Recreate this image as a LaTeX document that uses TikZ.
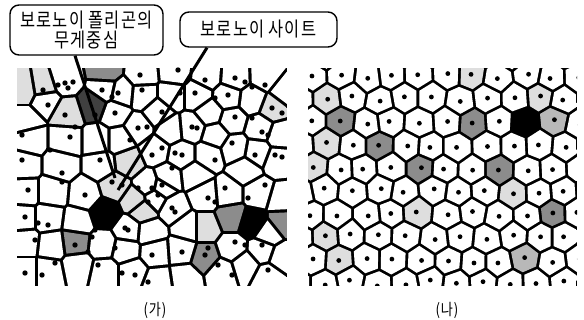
\documentclass[tikz,border=0pt]{standalone}
\usepackage{fontspec}
\newfontfamily\krwide[LetterSpace=5,FakeStretch=0.82]{Noto Sans CJK KR}
\usetikzlibrary{calc}
\definecolor{cW}{gray}{1}
\colorlet{cL}{black!13}
\colorlet{cN}{black!28}
\colorlet{cM}{black!45}
\colorlet{cD}{black!75}
\colorlet{cK}{black}
\tikzset{
  calloutbox/.style={draw, line width=1.4pt, rounded corners=9pt, fill=white, inner sep=0pt, align=center,
    font=\krwide\fontsize{20}{20}\selectfont},
  pointer/.style={line width=3pt},
  panellabel/.style={font=\krwide\fontsize{16}{18}\selectfont},
  sitedot/.style={fill=black}
}
\makeatletter
% #1 list x/y, #2 prefix, #3 x1, #4 y1, #5 x2, #6 y2, #7 cutoff, #8 half gap
\newcommand\VorDraw[8]{%
  \fill[black] (#3,#4) rectangle (#5,#6);
  \foreach \Vxi/\Vyi [count=\Vi] in #1 {%
    \gdef\Vclips{}%
    \foreach \Vxj/\Vyj [count=\Vj] in #1 {%
      \ifnum\Vi=\Vj\relax\else
        \dimen0=\dimexpr\Vxj pt-\Vxi pt\relax
        \ifdim\dimen0<0pt \dimen0=-\dimen0\fi
        \dimen2=\dimexpr\Vyj pt-\Vyi pt\relax
        \ifdim\dimen2<0pt \dimen2=-\dimen2\fi
        \ifdim\dimen0<#7pt\relax\ifdim\dimen2<#7pt\relax
          \pgfmathsetmacro\Vdx{\Vxj-\Vxi}%
          \pgfmathsetmacro\Vdy{\Vyj-\Vyi}%
          \pgfmathsetmacro\Vdd{veclen(\Vdx,\Vdy)}%
          \pgfmathsetmacro\Vux{\Vdx/\Vdd}%
          \pgfmathsetmacro\Vuy{\Vdy/\Vdd}%
          \pgfmathsetmacro\Vbx{(\Vxi+\Vxj)/2-#8*\Vux}%
          \pgfmathsetmacro\Vby{(\Vyi+\Vyj)/2-#8*\Vuy}%
          \pgfmathsetmacro\Vax{\Vbx-400*\Vuy}%
          \pgfmathsetmacro\Vay{\Vby+400*\Vux}%
          \pgfmathsetmacro\Vcx{\Vbx+400*\Vuy}%
          \pgfmathsetmacro\Vcy{\Vby-400*\Vux}%
          \pgfmathsetmacro\Vex{\Vcx-400*\Vux}%
          \pgfmathsetmacro\Vey{\Vcy-400*\Vuy}%
          \pgfmathsetmacro\Vfx{\Vax-400*\Vux}%
          \pgfmathsetmacro\Vfy{\Vay-400*\Vuy}%
          \xdef\Vclips{\unexpanded\expandafter{\Vclips}\noexpand\clip(\Vax,\Vay)--(\Vcx,\Vcy)--(\Vex,\Vey)--(\Vfx,\Vfy)--cycle;}%
        \fi\fi
      \fi
    }%
    \ifcsname #2@\Vi\endcsname \edef\Vcol{\csname #2@\Vi\endcsname}\else\def\Vcol{cW}\fi
    \begin{scope}
      \clip (#3,#4) rectangle (#5,#6);
      \Vclips
      \fill[fill=\Vcol] (#3,#4) rectangle (#5,#6);
    \end{scope}
  }%
}
% #1 site list, #2 prefix, #3 shade points px/py/col
\newcommand\VorShade[3]{%
  \foreach \Px/\Py/\Pc in {#3} {%
    \gdef\Vbest{9000}\gdef\Vbi{0}%
    \foreach \Sx/\Sy [count=\Sk] in #1 {%
      \dimen0=\dimexpr\Sx pt-\Px pt\relax
      \ifdim\dimen0<0pt \dimen0=-\dimen0\fi
      \dimen2=\dimexpr\Sy pt-\Py pt\relax
      \ifdim\dimen2<0pt \dimen2=-\dimen2\fi
      \ifdim\dimen0<40pt\relax\ifdim\dimen2<40pt\relax
        \pgfmathsetmacro\Vd{veclen(\Sx-\Px,\Sy-\Py)}%
        \ifdim\Vd pt<\Vbest pt \xdef\Vbest{\Vd}\xdef\Vbi{\Sk}\fi
      \fi\fi
    }%
    \expandafter\xdef\csname #2@\Vbi\endcsname{\Pc}%
  }%
}
\makeatother

\def\SitesL{25/90,43/87,65/80,105/72,142/75,175/72,207/75,235/77,265/76,285/92,
25/120,68/113,93/105,104/89,122/93,115/113,143/95,138/128,158/112,172/95,
197/95,192/128,228/97,232/120,252/100,273/108,260/128,280/135,30/140,66/140,
98/140,60/165,24/165,102/165,128/162,155/150,182/155,208/155,235/148,257/152,
278/160,25/192,52/192,85/195,105/213,115/186,135/200,148/185,162/188,155/198,
168/178,143/210,173/208,205/195,228/193,258/193,282/200,23/218,48/218,78/222,
128/230,155/252,182/250,205/228,232/217,252/223,283/222,268/234,25/242,52/245,
75/242,103/245,125/250,205/257,232/248,262/250,282/257,25/272,48/272,78/266,
105/272,132/272,158/282,185/278,222/272,268/277,
215/135,245/170,195/175,170/130,120/140,45/100,210/113,188/228,150/232,245/265}

\def\DotsL{48/105,65/115,58/85,65/83,68/88,73/82,43/90,75/127,70/137,22/135,
102/90,112/97,118/93,142/90,115/113,138/128,147/127,162/112,180/93,195/93,
215/98,228/95,235/78,245/82,252/87,265/85,272/108,282/113,192/127,197/128,
235/117,252/118,262/132,268/135,275/155,282/157,255/155,232/143,215/160,175/153,
182/155,172/168,162/148,152/155,62/173,95/115,28/190,62/182,85/195,112/182,
122/185,138/188,148/202,152/188,162/185,158/195,172/208,175/212,208/198,215/202,
225/188,248/198,258/215,265/185,25/217,38/223,48/225,92/237,95/230,125/228,
128/230,115/248,75/245,88/252,98/265,35/240,55/263,152/255,182/252,208/248,
205/255,235/242,245/245,262/245,218/265,232/275,122/273,135/275,148/282,25/273,
42/275,268/270,140/75,178/70,205/80,130/140,22/160,100/160,50/150}

\begin{document}
\begin{tikzpicture}[x=1pt,y=-1pt]
\useasboundingbox (0,0) rectangle (584,320);

% ---------- left panel (irregular Voronoi) ----------
\VorShade{\SitesL}{sL}{25/90/cL,43/87/cL,68/113/cL,128/162/cL,115/180/cL,135/200/cL,
  143/210/cL,205/228/cL,273/108/cL,105/72/cM,205/257/cM,75/242/cM,232/217/cM,
  283/222/cM,93/105/cD,105/213/cK,252/223/cK}
\VorDraw{\SitesL}{sL}{17}{68}{287}{286}{90}{1.6}
\begin{scope}
  \clip (17,68) rectangle (287,286);
  \foreach \x/\y in \DotsL {\fill[sitedot] (\x,\y) circle (2.7);}
\end{scope}

% ---------- right panel (centroidal Voronoi) ----------
\pgfmathsetseed{3}
\gdef\SitesR{}
\foreach \r in {-1,...,10}{\foreach \c in {-1,...,10}{%
  \pgfmathsetmacro\Sxx{312+\c*26.7+mod(\r+2,2)*13.35+3*rand}%
  \pgfmathsetmacro\Syy{76+\r*23+3*rand}%
  \ifx\SitesR\empty\xdef\SitesR{\Sxx/\Syy}\else\xdef\SitesR{\SitesR,\Sxx/\Syy}\fi
}}
\VorShade{\SitesR}{sR}{348/113/cM,378/160/cM,418/183/cM,478/132/cM,495/178/cM,
  553/218/cM,525/120/cK,548/115/cN,533/263/cN,333/88/cL,322/132/cL,323/160/cL,
  405/207/cL,520/187/cL,325/227/cL,328/253/cL,480/75/cL,530/93/cL}
\VorDraw{\SitesR}{sR}{308}{68}{577}{286}{50}{1.45}
\begin{scope}
  \clip (308,68) rectangle (577,286);
  \foreach \x/\y in \SitesR {\fill[sitedot] (\x,\y) circle (2.4);}
\end{scope}

% ---------- callouts ----------
\node[calloutbox, minimum width=153pt, minimum height=50pt] (b1) at (86.5,30)
  {보로노이 폴리곤의\\무게중심};
\node[calloutbox, minimum width=157pt, minimum height=35pt] (b2) at (258.5,29.5)
  {보로노이 사이트};
\coordinate (e1) at (115,178);
\coordinate (e2) at (118,190);
\draw[pointer] ($(b1.south)+(-11.5,0)$) -- (e1);
\draw[pointer] ($(b2.south)+(-51.5,0)$) -- (e2);

% ---------- labels ----------
\node[panellabel] (la) at (155,310) {(가)};
\node[panellabel] (lb) at (447,310) {(나)};
\end{tikzpicture}
\end{document}
